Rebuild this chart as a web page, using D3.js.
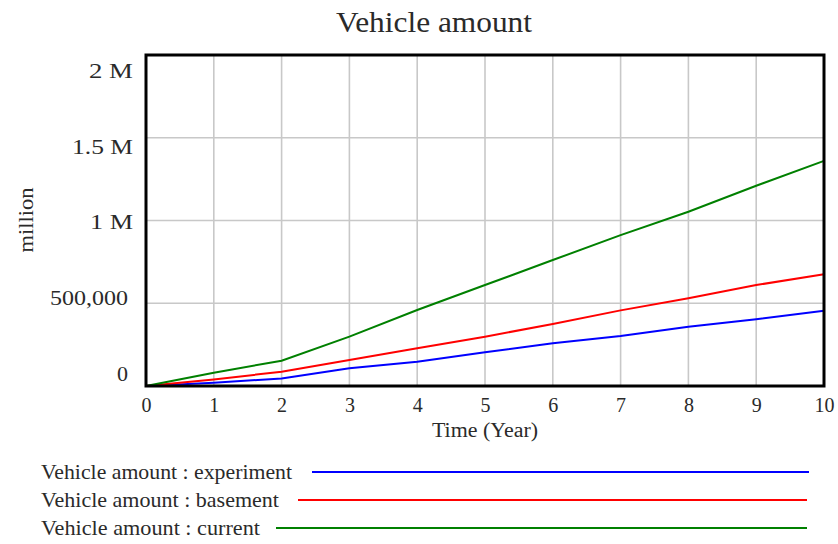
<!DOCTYPE html>
<html>
<head>
<meta charset="utf-8">
<script src="https://cdn.jsdelivr.net/npm/d3@7/dist/d3.min.js"></script>
<style>
  html, body { margin: 0; padding: 0; background: #fff; }
  svg { display: block; }
  text { font-family: "Liberation Serif", "DejaVu Serif", serif; fill: #2a2a2a; }
</style>
</head>
<body>
<svg id="chart" width="838" height="544"></svg>
<script>
// ---- data ----
const years = [0, 1, 2, 3, 4, 5, 6, 7, 8, 9, 10];
const experiment = [0, 20000, 46000, 107000, 147000, 204000, 258000, 302000, 358000, 403000, 455000];
const basement   = [0, 40000, 86000, 157000, 228000, 298000, 375000, 457000, 530000, 610000, 675000];
const current    = [0, 80000, 153000, 298000, 459000, 610000, 761000, 912000, 1053000, 1210000, 1360000];
const xTicks = [0, 1, 2, 3, 4, 5, 6, 7, 8, 9, 10];
const yTicks = [0, 500000, 1000000, 1500000, 2000000];
const yTickLabels = ["0", "500,000", "1 M", "1.5 M", "2 M"];
const seriesNames = ["Vehicle amount : experiment", "Vehicle amount : basement", "Vehicle amount : current"];
const seriesColors = ["#0000ff", "#ff0000", "#008000"];
const seriesData = [experiment, basement, current];

// ---- layout ----
const svg = d3.select("#chart");
const L = 146, T = 55, R = 824, B = 386;

const x = d3.scaleLinear().domain([0, 10]).range([L, R]);
const y = d3.scaleLinear().domain([0, 2000000]).range([B, T]);
// Vensim-style label placement (labels spread between bottom and top)
const yLab = d3.scaleLinear().domain([0, 2000000]).range([373, 70]);

// grid
const grid = svg.append("g");
grid.selectAll("line.v").data(xTicks.slice(1, -1)).enter().append("line")
  .attr("x1", d => x(d)).attr("x2", d => x(d)).attr("y1", T).attr("y2", B)
  .attr("stroke", "#c8c8c8").attr("stroke-width", 1.6);
grid.selectAll("line.h").data(yTicks.slice(1, -1)).enter().append("line")
  .attr("y1", d => y(d)).attr("y2", d => y(d)).attr("x1", L).attr("x2", R)
  .attr("stroke", "#c8c8c8").attr("stroke-width", 1.6);

// x axis labels
const xAxis = d3.axisBottom(x).tickValues(xTicks).tickSize(0).tickPadding(0).tickFormat(d3.format("d"));
const gx = svg.append("g").attr("transform", `translate(0,${B})`).call(xAxis);
gx.select(".domain").remove();
gx.selectAll("text").attr("font-size", 20).attr("dy", null).attr("y", 26)
  .style("font-family", '"Liberation Serif", serif').attr("fill", "#2a2a2a");

// y axis labels
const yLabelWidth = [11, 78, 43, 61, 44];
const yLabelShift = [5, 5, 0, 0, 0];
const yAxis = d3.axisLeft(y).tickValues(yTicks).tickSize(0).tickPadding(13)
  .tickFormat((d, i) => yTickLabels[i]);
const gy = svg.append("g").attr("transform", `translate(${L},0)`).call(yAxis);
gy.select(".domain").remove();
gy.selectAll(".tick").each(function(d, i) {
  d3.select(this).select("text")
    .attr("font-size", 21)
    .style("font-family", '"Liberation Serif", serif')
    .attr("fill", "#2a2a2a")
    .attr("dy", "0.35em")
    .attr("x", -13 - yLabelShift[i])
    .attr("textLength", yLabelWidth[i])
    .attr("lengthAdjust", "spacingAndGlyphs")
    .attr("y", yLab(d) - y(d));
});

// lines
const line = d3.line().x((d, i) => x(years[i])).y(d => y(d));
svg.append("g").selectAll("path").data(seriesData).enter().append("path")
  .attr("d", d => line(d))
  .attr("fill", "none")
  .attr("stroke", (d, i) => seriesColors[i])
  .attr("stroke-width", 2);

// frame
svg.append("rect").attr("x", L).attr("y", T).attr("width", R - L).attr("height", B - T)
  .attr("fill", "none").attr("stroke", "#000").attr("stroke-width", 3);

// title
svg.append("text").attr("x", 434).attr("y", 32).attr("text-anchor", "middle")
  .attr("font-size", 30).attr("textLength", 196).attr("lengthAdjust", "spacingAndGlyphs")
  .text("Vehicle amount");

// axis titles
svg.append("text").attr("x", 485).attr("y", 437).attr("text-anchor", "middle")
  .attr("font-size", 20).attr("textLength", 106).attr("lengthAdjust", "spacingAndGlyphs")
  .text("Time (Year)");
svg.append("text").attr("transform", "translate(33,220) rotate(-90)").attr("text-anchor", "middle")
  .attr("font-size", 22).attr("textLength", 65).attr("lengthAdjust", "spacingAndGlyphs")
  .text("million");

// legend
const legRowsY = [472, 500, 528];
const legTextWidth = [251, 238, 219];
const legLineStart = [312, 298, 276];
const legLineEnd = [809, 807, 807];
const lg = svg.append("g");
seriesNames.forEach((name, i) => {
  lg.append("text").attr("x", 41).attr("y", legRowsY[i] + 7).attr("font-size", 21)
    .attr("textLength", legTextWidth[i]).attr("lengthAdjust", "spacingAndGlyphs").text(name);
  lg.append("line").attr("x1", legLineStart[i]).attr("x2", legLineEnd[i])
    .attr("y1", legRowsY[i]).attr("y2", legRowsY[i])
    .attr("stroke", seriesColors[i]).attr("stroke-width", 2);
});
</script>
</body>
</html>
